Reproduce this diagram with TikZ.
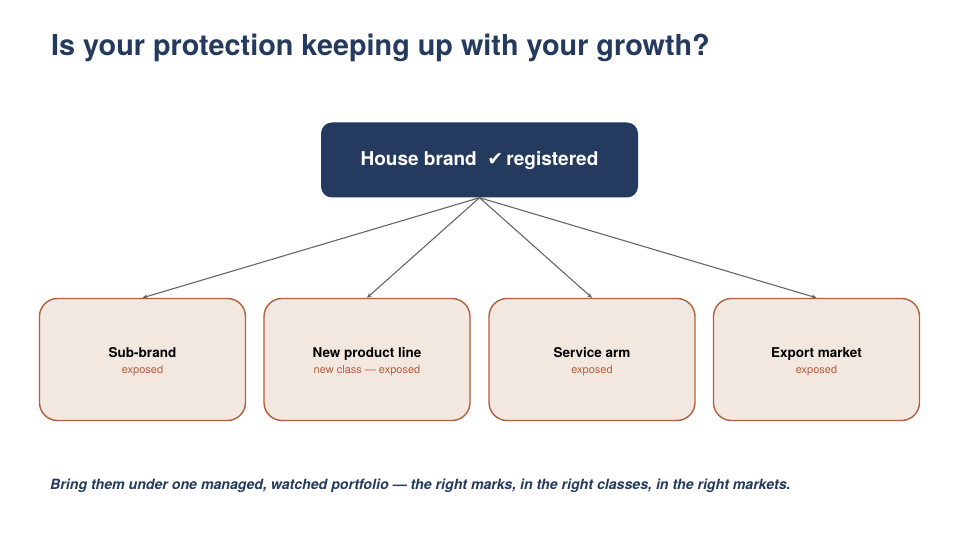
\documentclass[tikz,border=0pt]{standalone}
\usepackage{fontspec}
\setmainfont{TeX Gyre Heros}
\newfontfamily\tickfont{DejaVu Sans}
\usetikzlibrary{arrows.meta}

\definecolor{navy}{HTML}{243A5E}
\definecolor{rust}{HTML}{B45F3C}
\definecolor{sand}{HTML}{F3E8E0}
\definecolor{wire}{HTML}{666666}

\begin{document}
\begin{tikzpicture}[x=1pt,y=-1pt,
	house/.style={fill=navy, rounded corners=11pt, minimum width=317pt, minimum height=75pt,
		text=white, font=\bfseries\fontsize{19}{22}\selectfont},
	growth/.style={draw=rust, fill=sand, line width=1.4pt, rounded corners=18pt,
		minimum width=206pt, minimum height=122pt, align=center, font=\fontsize{13.5}{15}\selectfont},
	link/.style={draw=wire, line width=1.1pt, -{Stealth[length=5pt,width=4.5pt]}}]
	\useasboundingbox (0,0) rectangle (959,540);
	\fill[white] (0,0) rectangle (959,540);
	\node[anchor=base west, inner sep=0pt, text=navy, font=\bfseries\fontsize{28.8}{32}\selectfont] (title) at (51,56)
		{Is your protection keeping up with your growth?};
	\node[house] (brand) at (479.5,160) {House brand\ \ {\tickfont\char"2714}\,registered};
	\foreach \x/\name/\head/\note in {142.5/sub/Sub-brand/exposed,
			367/line/New product line/new class — exposed,
			592/serv/Service arm/exposed,
			816.5/expo/Export market/exposed} {
		\node[growth] (\name) at (\x,359.5)
			{{\bfseries\rule{0pt}{15pt}\head}\\[1pt]
			 {\color{rust}\fontsize{11}{15}\selectfont \note}};
		\draw[link] (brand.south) -- (\name.north);
	}
	\node[anchor=base west, inner sep=0pt, text=navy, font=\bfseries\itshape\fontsize{14.15}{17}\selectfont] (foot) at (50,489)
		{Bring them under one managed, watched portfolio — the right marks, in the right classes, in the right markets.};
\end{tikzpicture}
\end{document}
